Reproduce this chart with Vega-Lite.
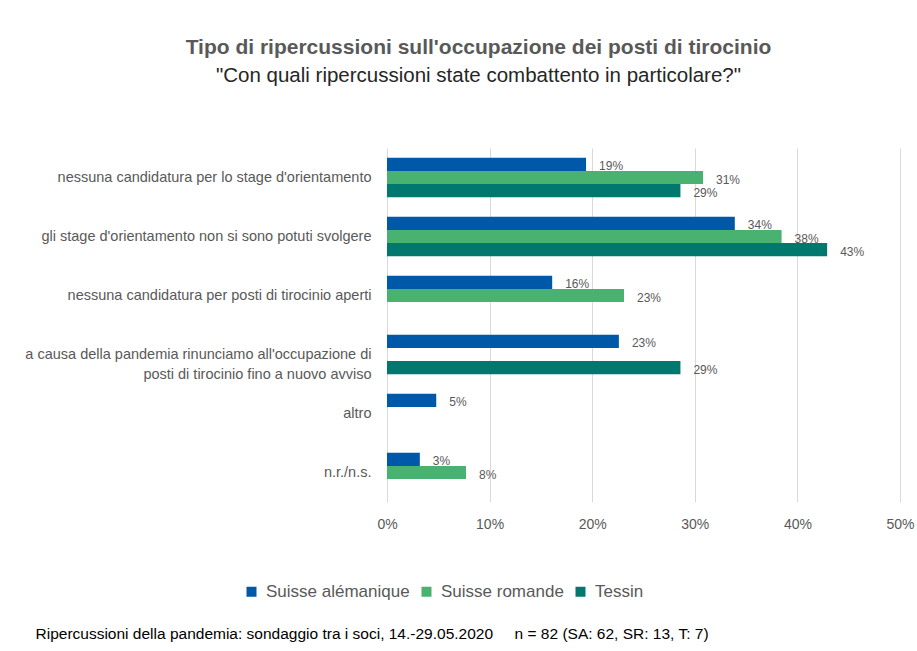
{
  "$schema": "https://vega.github.io/schema/vega-lite/v6.json",
  "width": 513,
  "height": 354,
  "autosize": "none",
  "padding": {"left": 387, "top": 148, "right": 17, "bottom": 149},
  "background": "white",
  "config": {"view": {"stroke": null}},
  "title": {
    "text": "Tipo di ripercussioni sull'occupazione dei posti di tirocinio",
    "subtitle": "\"Con quali ripercussioni state combattento in particolare?\"",
    "anchor": "middle",
    "frame": "group",
    "dx": -165,
    "offset": 62,
    "font": "Liberation Sans",
    "fontSize": 21,
    "fontWeight": "bold",
    "color": "#595959",
    "subtitleFont": "Liberation Sans",
    "subtitleFontSize": 20.5,
    "subtitleColor": "#262626",
    "subtitlePadding": 8
  },
  "data": {
    "values": [
      {"cat": "nessuna candidatura per lo stage d'orientamento", "region": "Suisse alémanique", "v": 0.194},
      {"cat": "nessuna candidatura per lo stage d'orientamento", "region": "Suisse romande", "v": 0.308},
      {"cat": "nessuna candidatura per lo stage d'orientamento", "region": "Tessin", "v": 0.286},
      {"cat": "gli stage d'orientamento non si sono potuti svolgere", "region": "Suisse alémanique", "v": 0.339},
      {"cat": "gli stage d'orientamento non si sono potuti svolgere", "region": "Suisse romande", "v": 0.3846},
      {"cat": "gli stage d'orientamento non si sono potuti svolgere", "region": "Tessin", "v": 0.429},
      {"cat": "nessuna candidatura per posti di tirocinio aperti", "region": "Suisse alémanique", "v": 0.161},
      {"cat": "nessuna candidatura per posti di tirocinio aperti", "region": "Suisse romande", "v": 0.231},
      {"cat": "a causa della pandemia rinunciamo all'occupazione di\nposti di tirocinio fino a nuovo avviso", "region": "Suisse alémanique", "v": 0.226},
      {"cat": "a causa della pandemia rinunciamo all'occupazione di\nposti di tirocinio fino a nuovo avviso", "region": "Tessin", "v": 0.286},
      {"cat": "altro", "region": "Suisse alémanique", "v": 0.048},
      {"cat": "n.r./n.s.", "region": "Suisse alémanique", "v": 0.032},
      {"cat": "n.r./n.s.", "region": "Suisse romande", "v": 0.077}
    ]
  },
  "encoding": {
    "y": {
      "field": "cat",
      "type": "nominal",
      "sort": null,
      "scale": {"paddingInner": 0.33, "paddingOuter": 0.165},
      "axis": {
        "title": null,
        "domain": false,
        "ticks": false,
        "labelPadding": 16,
        "labelFont": "Liberation Sans",
        "labelFontSize": 14.5,
        "labelColor": "#595959",
        "labelLimit": 400,
        "labelLineHeight": 20,
        "labelExpr": "split(datum.label, '\\n')"
      }
    },
    "yOffset": {
      "field": "region",
      "type": "nominal",
      "sort": ["Suisse alémanique", "Suisse romande", "Tessin"],
      "scale": {"domain": ["Suisse alémanique", "Suisse romande", "Tessin"]}
    },
    "x": {
      "field": "v",
      "type": "quantitative",
      "scale": {"domain": [0, 0.5]},
      "axis": {
        "title": "Ripercussioni della pandemia: sondaggio tra i soci, 14.-29.05.2020\u00a0\u00a0\u00a0\u00a0\u00a0n = 82 (SA: 62, SR: 13, T: 7)",
        "titleAnchor": "start",
        "titleAlign": "left",
        "titleX": -352,
        "titleY": 131,
        "titleBaseline": "middle",
        "titleFont": "Liberation Sans",
        "titleFontSize": 15.5,
        "titleFontWeight": "normal",
        "titleColor": "#000000",
        "format": ".0%",
        "values": [0, 0.1, 0.2, 0.3, 0.4, 0.5],
        "labelOverlap": false,
        "domain": false,
        "ticks": false,
        "grid": true,
        "gridColor": "#d9d9d9",
        "labelPadding": 15,
        "labelFont": "Liberation Sans",
        "labelFontSize": 14,
        "labelColor": "#595959",
        "labelFlush": false
      }
    }
  },
  "layer": [
    {
      "mark": {"type": "bar"},
      "encoding": {
        "color": {
          "field": "region",
          "type": "nominal",
          "scale": {
            "domain": ["Suisse alémanique", "Suisse romande", "Tessin"],
            "range": ["#0059A8", "#49B270", "#00786D"]
          },
          "legend": {
            "title": null,
            "orient": "none",
            "direction": "horizontal",
            "legendX": -144,
            "legendY": 435,
            "symbolType": "square",
            "symbolSize": 100,
            "symbolStrokeWidth": 0,
            "labelFont": "Liberation Sans",
            "labelFontSize": 17,
            "labelColor": "#595959",
            "labelOffset": 6,
            "columnPadding": 8
          }
        }
      }
    },
    {
      "mark": {"type": "text", "align": "left", "baseline": "middle", "dx": 13, "dy": 2, "font": "Liberation Sans", "fontSize": 12, "color": "#595959"},
      "encoding": {
        "text": {"field": "v", "type": "quantitative", "format": ".0%"}
      }
    }
  ]
}
